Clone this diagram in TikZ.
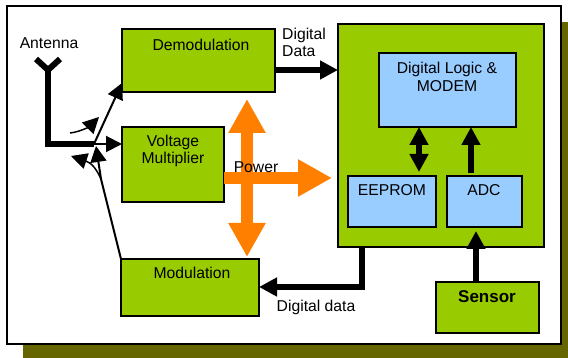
\documentclass[tikz,border=0pt]{standalone}
\usepackage{fontspec}
\setmainfont{Liberation Sans}
\usetikzlibrary{arrows.meta}
\definecolor{leaf}{HTML}{99CC00}
\definecolor{sky}{HTML}{99CCFF}
\definecolor{olive}{HTML}{666600}
\definecolor{power}{HTML}{FF8000}
\tikzset{
  block/.style={draw=black,line width=1.7pt,rectangle,inner sep=0pt,outer sep=0pt,anchor=north west},
  greenblock/.style={block,fill=leaf},
  blueblock/.style={block,fill=sky},
  txt/.style={font=\fontsize{15.7pt}{17pt}\selectfont,inner sep=0pt,anchor=base,text=black,yshift=-0.7pt},
  thick arrow/.style={line width=6pt,draw=black,-{Triangle[length=18pt,width=18pt]}},
  both arrow/.style={line width=6pt,draw=black,{Triangle[length=18pt,width=18pt]}-{Triangle[length=18pt,width=18pt]}},
  thin arrow/.style={line width=2pt,draw=black,-{Triangle[length=16pt,width=16pt]}},
  power arrow/.style={line width=11.5pt,draw=power,-{Triangle[length=34pt,width=35pt]}},
}
\begin{document}
\begin{tikzpicture}[x=1pt,y=-1pt]
\useasboundingbox (0,0) rectangle (568,358);
\fill[white] (0,0) rectangle (568,358);
\fill[olive] (23,22) rectangle (568,358);
\node[block,fill=white,minimum width=554pt,minimum height=338pt,line width=2pt] (frame) at (7,6) {};

\node[greenblock,minimum width=153pt,minimum height=63pt] (demod) at (122,29) {};
\node[greenblock,minimum width=102pt,minimum height=75pt] (vm) at (122,127) {};
\node[greenblock,minimum width=138pt,minimum height=57pt] (mod) at (121,259) {};
\node[greenblock,minimum width=206pt,minimum height=223pt] (big) at (338,24) {};
\node[blueblock,minimum width=137pt,minimum height=74pt] (logic) at (379,53) {};
\node[blueblock,minimum width=88pt,minimum height=51pt] (eeprom) at (348,176) {};
\node[blueblock,minimum width=75pt,minimum height=51pt] (adc) at (447,176) {};
\node[greenblock,minimum width=103pt,minimum height=51pt] (sensor) at (436,282) {};

% Antenna
\coordinate (ant) at (48,70);
\coordinate (antL) at (36,59);
\coordinate (antR) at (60,59);
\coordinate (junction) at (94,144);
\draw[line width=6pt,line join=miter] (antL) -- (ant) -- (antR);
\draw[line width=6pt,line join=miter] (ant) |- (junction);
\draw[thin arrow] (junction) -- (vm.west |- junction);
\coordinate (demodIn) at (122,83);
\draw[thin arrow] (junction) -- (demodIn);
\coordinate (rx) at (70,133);
\coordinate (rxTip) at (99,117);
\draw[line width=1.5pt,-{Triangle[length=16pt,width=16pt]}] (rx) .. controls (80,132) and (90,126) .. (rxTip);
\coordinate (bend) at (101,179);
\coordinate (txTipA) at (96,146);
\coordinate (txTipB) at (71,156);
\draw[line width=2pt] (mod.north west) -- (bend);
\draw[thin arrow] (bend) -- (txTipA);
\draw[line width=1.5pt,-{Triangle[length=16pt,width=16pt]}] (bend) .. controls (97,170) and (92,163) .. (txTipB);

% Power
\coordinate (hub) at (247,178);
\coordinate (up) at (247,99);
\coordinate (down) at (247,257);
\coordinate (right) at (332,178);
\draw[power arrow] (hub) -- (up);
\draw[power arrow] (hub) -- (down);
\draw[power arrow] (vm.east |- hub) -- (right);

% Digital paths
\coordinate (dd) at (0,70);
\coordinate (dm) at (362,287);
\coordinate (sx) at (476,231);
\draw[thick arrow] (demod.east |- dd) -- (big.west |- dd);
\draw[line width=6pt,line join=miter,-{Triangle[length=18pt,width=18pt]}] (dm |- big.south) -- (dm) -- (mod.east |- dm);
\draw[thick arrow] (sx |- sensor.north) -- (sx);
\coordinate (exch) at (419,172);
\draw[both arrow] (exch |- logic.south) -- (exch);
\coordinate (adcup) at (471,173);
\draw[thick arrow] (adcup) -- (adcup |- logic.south);

% Labels
\node[txt] (tant) at (49,48) {Antenna};
\node[txt] (tdemod) at (201,50) {Demodulation};
\node[txt] (tvolt1) at (173,146) {Voltage};
\node[txt] (tvolt2) at (173,163) {Multiplier};
\node[txt] (tmod) at (192,278) {Modulation};
\node[txt] (tpower) at (256,172) {Power};
\node[txt,anchor=base west] (tdd1) at (282,39) {Digital};
\node[txt,anchor=base west] (tdd2) at (282,56) {Data};
\node[txt] (tlogic1) at (447,73) {Digital Logic \&};
\node[txt] (tlogic2) at (447,91) {MODEM};
\node[txt] (teeprom) at (392,195) {EEPROM};
\node[txt] (tadc) at (484,195) {ADC};
\node[txt,font=\fontsize{17pt}{17pt}\selectfont\bfseries] (tsensor) at (487,302) {Sensor};
\node[txt] (tdata) at (316,311) {Digital data};
\end{tikzpicture}
\end{document}
